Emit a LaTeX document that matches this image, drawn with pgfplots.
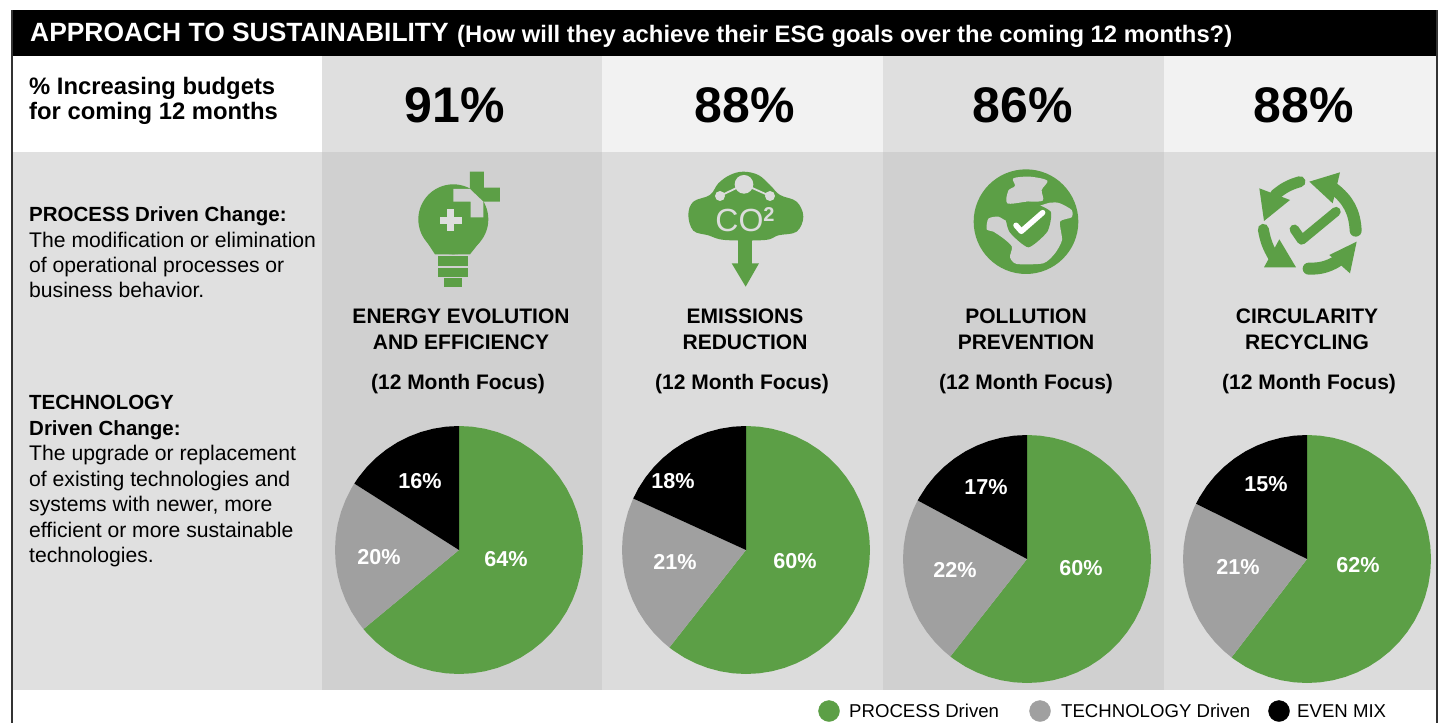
\documentclass[border=0pt]{standalone}
\usepackage{fontspec}
\setmainfont{Liberation Sans}
\usepackage{pgfplots}
\pgfplotsset{compat=1.18}
\usepgfplotslibrary{polar}
\definecolor{pgreen}{HTML}{5C9F46}
\definecolor{tgray}{HTML}{A0A0A0}
\definecolor{frame}{HTML}{333333}
\definecolor{rowA}{HTML}{DFDFDF}
\definecolor{rowB}{HTML}{F2F2F2}
\definecolor{colA}{HTML}{D0D0D0}
\definecolor{colB}{HTML}{DCDCDC}
\definecolor{colL}{HTML}{E0E0E0}
\newcommand{\fs}[1]{\fontsize{#1}{#1}\selectfont}
% page in reference pixels, y running down
\pgfplotsset{
  page/.style={at={(0pt,0pt)},anchor=south west,scale only axis,x=1pt,y=1pt,
    xmin=0,xmax=1439,ymin=0,ymax=723,y dir=reverse,hide axis,clip=false},
  pie/.style={scale only axis,width=248pt,height=248pt,anchor=center,
    xmin=0,xmax=360,ymin=0,ymax=1,hide axis,clip=false},
}
\tikzset{
  bold/.style={font=\fs{21}\bfseries,anchor=mid,yshift=-4.5pt},
  plab/.style={font=\fs{21.6}\bfseries,anchor=mid,yshift=-4.5pt,white},
  big/.style={font=\fs{50}\bfseries,anchor=mid,yshift=-14pt},
  ltxt/.style={font=\fs{21.15},anchor=mid west,inner sep=0pt,yshift=-4.5pt},
  lbold/.style={font=\fs{20.5}\bfseries,anchor=mid west,inner sep=0pt,yshift=-4.5pt},
  legtxt/.style={font=\fs{18.6},anchor=mid west,inner sep=0pt,yshift=-4pt},
}
\begin{document}
\begin{tikzpicture}
\useasboundingbox (0pt,0pt) rectangle (1439pt,723pt);
\begin{axis}[page]
  % panels
  \addplot[fill=black,draw=none] coordinates {(12,10)(1437,10)(1437,56)(12,56)};
  \addplot[fill=rowA,draw=none] coordinates {(322,56)(602,56)(602,152)(322,152)};
  \addplot[fill=rowB,draw=none] coordinates {(602,56)(883,56)(883,152)(602,152)};
  \addplot[fill=rowA,draw=none] coordinates {(883,56)(1164,56)(1164,152)(883,152)};
  \addplot[fill=rowB,draw=none] coordinates {(1164,56)(1437,56)(1437,152)(1164,152)};
  \addplot[fill=colL,draw=none] coordinates {(12,152)(322,152)(322,690)(12,690)};
  \addplot[fill=colA,draw=none] coordinates {(322,152)(602,152)(602,690)(322,690)};
  \addplot[fill=colB,draw=none] coordinates {(602,152)(883,152)(883,690)(602,690)};
  \addplot[fill=colA,draw=none] coordinates {(883,152)(1164,152)(1164,690)(883,690)};
  \addplot[fill=colB,draw=none] coordinates {(1164,152)(1437,152)(1437,690)(1164,690)};
  \addplot[frame,line width=1.2pt] coordinates {(12,10)(12,723)};
  \addplot[frame,line width=1.2pt] coordinates {(1437,10)(1437,723)};
\end{axis}

% pie 1: 64 / 20 / 16
\begin{polaraxis}[pie,at={(459pt,173pt)}]
  \addplot[fill=pgreen,draw=none] coordinates {(0,0)(90,1)(84,1)(78,1)(72,1)(66,1)(60,1)(54,1)(48,1)(42,1)(36,1)(30,1)(24,1)(18,1)(12,1)(6,1)(0,1)(-6,1)(-12,1)(-18,1)(-24,1)(-30,1)(-36,1)(-42,1)(-48,1)(-54,1)(-60,1)(-66,1)(-72,1)(-78,1)(-84,1)(-90,1)(-96,1)(-102,1)(-108,1)(-114,1)(-120,1)(-126,1)(-132,1)(-138,1)(-140.4,1)};
  \addplot[fill=tgray,draw=none] coordinates {(0,0)(219.6,1)(216,1)(210,1)(204,1)(198,1)(192,1)(186,1)(180,1)(174,1)(168,1)(162,1)(156,1)(150,1)(147.6,1)};
  \addplot[fill=black,draw=none] coordinates {(0,0)(147.6,1)(144,1)(138,1)(132,1)(126,1)(120,1)(114,1)(108,1)(102,1)(96,1)(90,1)};
\end{polaraxis}
% pie 2: 60 / 21 / 18
\begin{polaraxis}[pie,at={(746pt,173pt)}]
  \addplot[fill=pgreen,draw=none] coordinates {(0,0)(90,1)(84,1)(78,1)(72,1)(66,1)(60,1)(54,1)(48,1)(42,1)(36,1)(30,1)(24,1)(18,1)(12,1)(6,1)(0,1)(-6,1)(-12,1)(-18,1)(-24,1)(-30,1)(-36,1)(-42,1)(-48,1)(-54,1)(-60,1)(-66,1)(-72,1)(-78,1)(-84,1)(-90,1)(-96,1)(-102,1)(-108,1)(-114,1)(-120,1)(-126,1)(-128.18,1)};
  \addplot[fill=tgray,draw=none] coordinates {(0,0)(231.82,1)(228,1)(222,1)(216,1)(210,1)(204,1)(198,1)(192,1)(186,1)(180,1)(174,1)(168,1)(162,1)(156,1)(155.45,1)};
  \addplot[fill=black,draw=none] coordinates {(0,0)(155.45,1)(150,1)(144,1)(138,1)(132,1)(126,1)(120,1)(114,1)(108,1)(102,1)(96,1)(90,1)};
\end{polaraxis}
% pie 3: 60 / 22 / 17
\begin{polaraxis}[pie,at={(1027pt,164pt)}]
  \addplot[fill=pgreen,draw=none] coordinates {(0,0)(90,1)(84,1)(78,1)(72,1)(66,1)(60,1)(54,1)(48,1)(42,1)(36,1)(30,1)(24,1)(18,1)(12,1)(6,1)(0,1)(-6,1)(-12,1)(-18,1)(-24,1)(-30,1)(-36,1)(-42,1)(-48,1)(-54,1)(-60,1)(-66,1)(-72,1)(-78,1)(-84,1)(-90,1)(-96,1)(-102,1)(-108,1)(-114,1)(-120,1)(-126,1)(-128.18,1)};
  \addplot[fill=tgray,draw=none] coordinates {(0,0)(231.82,1)(228,1)(222,1)(216,1)(210,1)(204,1)(198,1)(192,1)(186,1)(180,1)(174,1)(168,1)(162,1)(156,1)(151.82,1)};
  \addplot[fill=black,draw=none] coordinates {(0,0)(151.82,1)(150,1)(144,1)(138,1)(132,1)(126,1)(120,1)(114,1)(108,1)(102,1)(96,1)(90,1)};
\end{polaraxis}
% pie 4: printed 62 / 21 / 15, slices as drawn in the picture
\begin{polaraxis}[pie,at={(1307pt,164pt)}]
  \addplot[fill=pgreen,draw=none] coordinates {(0,0)(90,1)(84,1)(78,1)(72,1)(66,1)(60,1)(54,1)(48,1)(42,1)(36,1)(30,1)(24,1)(18,1)(12,1)(6,1)(0,1)(-6,1)(-12,1)(-18,1)(-24,1)(-30,1)(-36,1)(-42,1)(-48,1)(-54,1)(-60,1)(-66,1)(-72,1)(-78,1)(-84,1)(-90,1)(-96,1)(-102,1)(-108,1)(-114,1)(-120,1)(-126,1)(-127.5,1)};
  \addplot[fill=tgray,draw=none] coordinates {(0,0)(232.5,1)(228,1)(222,1)(216,1)(210,1)(204,1)(198,1)(192,1)(186,1)(180,1)(174,1)(168,1)(162,1)(156,1)(153.5,1)};
  \addplot[fill=black,draw=none] coordinates {(0,0)(153.5,1)(150,1)(144,1)(138,1)(132,1)(126,1)(120,1)(114,1)(108,1)(102,1)(96,1)(90,1)};
\end{polaraxis}

% icons, each in its own crop coordinates (3 units = 1 px)
\begin{scope}[shift={(390pt,563pt)},x=0.3333pt,y=-0.3333pt]
  \fill[pgreen] (190,178) circle[radius=105];
  \fill[pgreen] (110,245) -- (270,245) -- (240,283) -- (135,283) -- cycle;
  \fill[pgreen] (240,35) -- (282,35) -- (282,83) -- (330,83) -- (330,125) -- (280,125) -- (240,85) -- cycle;
  \fill[colA] (190,87) -- (240,87) -- (280,125) -- (280,172) -- (242,172) -- (242,125) -- (190,125) -- cycle;
  \fill[colA!70!white] (172,148) rectangle (193,214);
  \fill[colA!70!white] (149,170) rectangle (215,191);
  \fill[pgreen] (143,289) rectangle (235,317);
  \fill[pgreen] (143,323) rectangle (235,350);
  \fill[pgreen] (162,355) rectangle (215,382);
\end{scope}
\begin{scope}[shift={(675pt,563pt)},x=0.3333pt,y=-0.3333pt]
  \fill[pgreen] plot[smooth cycle,tension=0.6] coordinates {(205,35)(250,45)(285,75)(315,105)(365,125)(385,170)(365,215)(310,226)(270,240)(150,240)(100,226)(55,212)(40,165)(55,125)(105,105)(130,70)(165,45)};
  \draw[colB,line width=1.8pt] (135,108) -- (207,73) -- (285,108);
  \fill[colB] (207,73) circle[radius=28];
  \fill[colB] (135,108) circle[radius=15];
  \fill[colB] (285,108) circle[radius=15];
  \fill[pgreen] (190,238) rectangle (232,312);
  \fill[pgreen] (170,310) -- (252,310) -- (212,380) -- cycle;
\end{scope}
\begin{scope}[shift={(960pt,563pt)},x=0.3333pt,y=-0.3333pt]
  \fill[pgreen] (198,185) circle[radius=157];
  \fill[colA] plot[smooth cycle,tension=0.5] coordinates {(160,55)(210,50)(262,62)(245,90)(248,122)(200,125)(142,130)(145,92)(165,78)};
  \fill[colA] plot[smooth cycle,tension=0.4] coordinates {(270,128)(300,130)(335,150)(335,172)(300,185)(306,240)(285,280)(250,310)(170,312)(150,292)(156,260)(130,235)(100,215)(80,208)(85,176)(115,170)(150,185)(205,150)};
  \fill[pgreen] plot[smooth cycle,tension=0.35] coordinates {(205,125)(272,155)(262,215)(205,262)(148,215)(138,155)};
  \draw[white,line width=5.5pt,line cap=round,line join=round] (168,196) -- (184,214) -- (248,158);
\end{scope}
\begin{scope}[shift={(1240pt,563pt)},x=0.3333pt,y=-0.3333pt]
  \draw[pgreen,line width=11pt,line cap=round] (180,65) to[bend right=12] (105,105);
  \fill[pgreen] (58,85) -- (150,120) -- (72,183) -- cycle;
  \draw[pgreen,line width=12pt,line cap=round] (347,212) to[bend right=25] (280,85);
  \fill[pgreen] (208,65) -- (300,37) -- (278,130) -- cycle;
  \draw[pgreen,line width=12pt,line cap=round] (206,326) to[bend right=15] (290,305);
  \fill[pgreen] (268,285) -- (350,245) -- (330,340) -- cycle;
  \draw[pgreen,line width=11pt,line cap=round] (70,208) to[bend right=10] (100,290);
  \fill[pgreen] (118,238) -- (168,322) -- (72,322) -- cycle;
  \draw[pgreen,line width=9.5pt,line cap=round,line join=round] (163,208) -- (185,240) -- (288,155);
\end{scope}

\begin{axis}[page]
  % legend
  \addplot[only marks,mark=*,mark size=10.5pt,color=pgreen] coordinates {(829,711)};
  \addplot[only marks,mark=*,mark size=10.5pt,color=tgray] coordinates {(1040,711)};
  \addplot[only marks,mark=*,mark size=10.5pt,color=black] coordinates {(1279,711)};
  \node[legtxt] at (axis cs:849,711) {PROCESS Driven};
  \node[legtxt] at (axis cs:1061,711) {TECHNOLOGY Driven};
  \node[legtxt] at (axis cs:1297,711) {EVEN MIX};
  % header
  \node[anchor=mid west,white,font=\fs{26.4}\bfseries,inner sep=0pt,yshift=-6pt] at (axis cs:30,33) {APPROACH TO SUSTAINABILITY};
  \node[anchor=mid west,white,font=\fs{23.8}\bfseries,inner sep=0pt,yshift=-6pt] at (axis cs:457,34) {(How will they achieve their ESG goals over the coming 12 months?)};
  \node[anchor=mid west,font=\fs{23.8}\bfseries,inner sep=0pt,yshift=-5.5pt] at (axis cs:29,86) {\% Increasing budgets};
  \node[anchor=mid west,font=\fs{23.8}\bfseries,inner sep=0pt,yshift=-5.5pt] at (axis cs:29,111) {for coming 12 months};
  \node[big] at (axis cs:455,106) {91\%};
  \node[big] at (axis cs:745,106) {88\%};
  \node[big] at (axis cs:1023,106) {86\%};
  \node[big] at (axis cs:1304,106) {88\%};
  % left column
  \node[lbold] at (axis cs:29,214) {PROCESS Driven Change:};
  \node[ltxt] at (axis cs:29,240) {The modification or elimination};
  \node[ltxt] at (axis cs:29,265) {of operational processes or};
  \node[ltxt] at (axis cs:29,290) {business behavior.};
  \node[lbold] at (axis cs:29,402) {TECHNOLOGY};
  \node[lbold] at (axis cs:29,428) {Driven Change:};
  \node[ltxt] at (axis cs:29,453) {The upgrade or replacement};
  \node[ltxt] at (axis cs:29,479) {of existing technologies and};
  \node[ltxt] at (axis cs:29,504) {systems with newer, more};
  \node[ltxt] at (axis cs:29,530) {efficient or more sustainable};
  \node[ltxt] at (axis cs:29,555) {technologies.};
  % column titles
  \node[bold] at (axis cs:461,316) {ENERGY EVOLUTION};
  \node[bold] at (axis cs:461,342) {AND EFFICIENCY};
  \node[bold] at (axis cs:458,382) {(12 Month Focus)};
  \node[bold] at (axis cs:745,316) {EMISSIONS};
  \node[bold] at (axis cs:745,342) {REDUCTION};
  \node[bold] at (axis cs:742,382) {(12 Month Focus)};
  \node[bold] at (axis cs:1026,316) {POLLUTION};
  \node[bold] at (axis cs:1026,342) {PREVENTION};
  \node[bold] at (axis cs:1026,382) {(12 Month Focus)};
  \node[bold] at (axis cs:1307,316) {CIRCULARITY};
  \node[bold] at (axis cs:1307,342) {RECYCLING};
  \node[bold] at (axis cs:1309,382) {(12 Month Focus)};
  % CO2 in the cloud
  \node[anchor=mid,colB,font=\fs{32},yshift=-7pt] at (axis cs:745,222) {CO\raisebox{0.6ex}{\fs{20}\bfseries 2}};
  % pie labels
  \node[plab] at (axis cs:506,559) {64\%};
  \node[plab] at (axis cs:379,557) {20\%};
  \node[plab] at (axis cs:420,481) {16\%};
  \node[plab] at (axis cs:795,561) {60\%};
  \node[plab] at (axis cs:675,562) {21\%};
  \node[plab] at (axis cs:673,481) {18\%};
  \node[plab] at (axis cs:1081,568) {60\%};
  \node[plab] at (axis cs:955,570) {22\%};
  \node[plab] at (axis cs:986,487) {17\%};
  \node[plab] at (axis cs:1358,565) {62\%};
  \node[plab] at (axis cs:1238,567) {21\%};
  \node[plab] at (axis cs:1266,484) {15\%};
\end{axis}
\end{tikzpicture}
\end{document}
